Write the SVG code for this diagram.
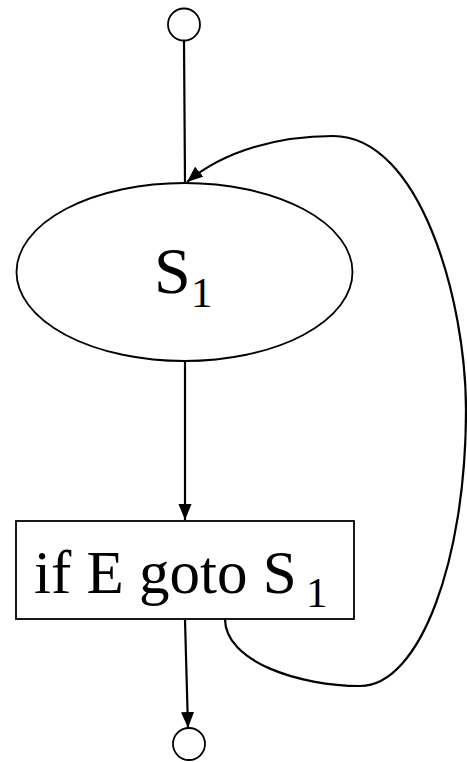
<svg xmlns="http://www.w3.org/2000/svg" width="467" height="762" viewBox="0 0 467 762">
<style>
.n{fill:#fff;stroke:#000;stroke-width:1.8}
.c{fill:none;stroke:#000;stroke-width:2.2}
.t{font-family:"Liberation Serif","Times New Roman",serif;fill:#000}
</style>
<defs>
<marker id="ah" markerUnits="userSpaceOnUse" markerWidth="17" markerHeight="14" refX="16" refY="7" orient="auto">
<path d="M0,0.5 L16,7 L0,13.5 Z" fill="#000"/>
</marker>
</defs>
<rect width="467" height="762" fill="#fff"/>
<g id="connectors">
<line class="c" x1="184" y1="41" x2="185" y2="183"/>
<path class="c" d="M225,619 C225,662 300,686 360,686 C420,686 466,560 466,410 C466,300 420,136 333,136 C280,136 225,150 187,182" marker-end="url(#ah)"/>
<line class="c" x1="185" y1="361" x2="185" y2="520" marker-end="url(#ah)"/>
<line class="c" x1="185" y1="620" x2="188" y2="728" marker-end="url(#ah)"/>
</g>
<g id="start">
<circle class="n" cx="184" cy="24.5" r="16"/>
</g>
<g id="s1">
<ellipse class="n" cx="184.5" cy="272" rx="168" ry="89"/>
<text class="t" x="154" y="293" font-size="66">S</text>
<text class="t" x="191" y="307" font-size="43">1</text>
</g>
<g id="cond">
<rect class="n" x="16" y="521" width="338" height="98"/>
<text class="t" x="34" y="593" font-size="61">if E goto S</text>
<text class="t" x="306" y="607" font-size="43">1</text>
</g>
<g id="end">
<circle class="n" cx="189" cy="744" r="16"/>
</g>
</svg>
